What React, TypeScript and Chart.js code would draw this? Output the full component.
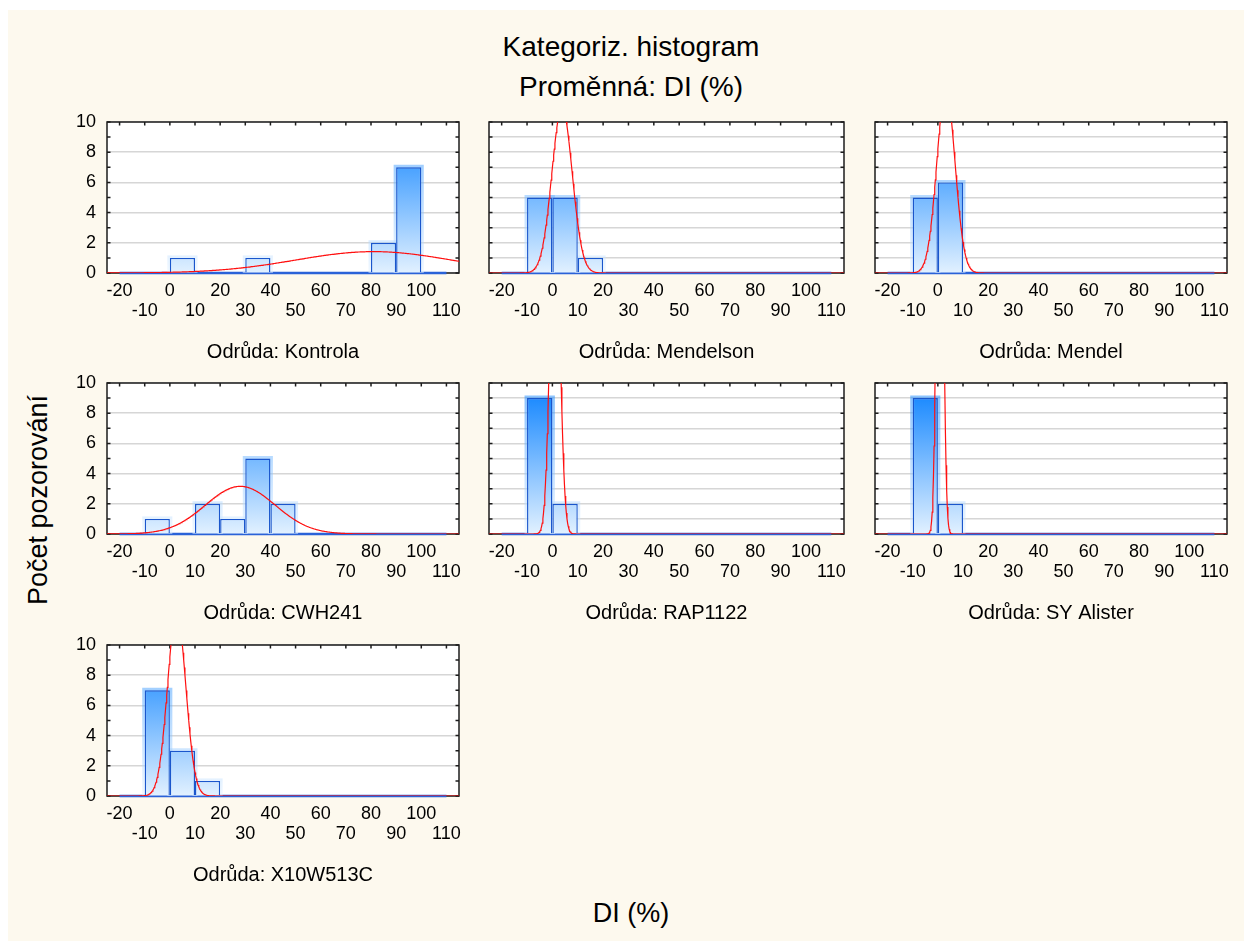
import React, { useEffect, useRef } from "react";
import { Chart, registerables } from "chart.js";

Chart.register(...registerables);

// ---------------- data ----------------
const TITLE = "Kategoriz. histogram";
const SUBTITLE = "Proměnná: DI (%)";
const X_TITLE = "DI (%)";
const Y_TITLE = "Počet pozorování";
const PANEL_PREFIX = "Odrůda: ";

const VARIETIES = ["Kontrola", "Mendelson", "Mendel", "CWH241", "RAP1122", "SY Alister", "X10W513C"];

const BIN_CENTERS = [-15, -5, 5, 15, 25, 35, 45, 55, 65, 75, 85, 95, 105];
const BIN_WIDTH = 10;

const X_TICKS = [-20, -10, 0, 10, 20, 30, 40, 50, 60, 70, 80, 90, 100, 110];
const Y_TICKS = [0, 1, 2, 3, 4, 5, 6, 7, 8, 9, 10];
const Y_TICK_LABELS = [0, 2, 4, 6, 8, 10];
const X_MIN = -25;
const X_MAX = 115;
const Y_MIN = 0;
const Y_MAX = 10;

const COUNTS_KONTROLA = [0, 0, 1, 0, 0, 1, 0, 0, 0, 0, 2, 7, 0];
const COUNTS_MENDELSON = [0, 5, 5, 1, 0, 0, 0, 0, 0, 0, 0, 0, 0];
const COUNTS_MENDEL = [0, 5, 6, 0, 0, 0, 0, 0, 0, 0, 0, 0, 0];
const COUNTS_CWH241 = [0, 1, 0, 2, 1, 5, 2, 0, 0, 0, 0, 0, 0];
const COUNTS_RAP1122 = [0, 9, 2, 0, 0, 0, 0, 0, 0, 0, 0, 0, 0];
const COUNTS_SY_ALISTER = [0, 9, 2, 0, 0, 0, 0, 0, 0, 0, 0, 0, 0];
const COUNTS_X10W513C = [0, 7, 3, 1, 0, 0, 0, 0, 0, 0, 0, 0, 0];

// fitted normal curve parameters (mean, standard deviation) per variety
const FIT_MEAN = [81, 3.8, 3.2, 28, 1.0, 0.8, 2.7];
const FIT_SD = [31, 4.0, 3.6, 13.9, 1.9, 1.2, 3.6];
const CURVE_STEP = 0.25;

const PANEL_COUNTS = [
  COUNTS_KONTROLA,
  COUNTS_MENDELSON,
  COUNTS_MENDEL,
  COUNTS_CWH241,
  COUNTS_RAP1122,
  COUNTS_SY_ALISTER,
  COUNTS_X10W513C,
];

// ---------------- layout ----------------
const COL_LEFT = [99, 481, 867];
const COL_WIDTH = [352, 355, 352];
const ROW_TOP = [112, 373, 635];
const PLOT_H = 151;
const PAD_TOP = 12;
const PAD_RIGHT = 16;
const Y_AXIS_W_LABELED = 50;
const Y_AXIS_W_PLAIN = 12;
const X_AXIS_H = 100;
const FONT = '"Liberation Sans", Arial, Helvetica, sans-serif';

Chart.defaults.font.family = FONT;
Chart.defaults.color = "#000";

function barGradient(chart: any, alpha: number) {
  const a = chart.chartArea;
  if (!a) return `rgba(120,180,255,${alpha})`;
  const g = chart.ctx.createLinearGradient(0, a.bottom, 0, a.top);
  g.addColorStop(0, `rgba(226,241,255,${alpha})`);
  g.addColorStop(1, `rgba(8,128,255,${alpha})`);
  return g;
}

const plotBgPlugin = {
  id: "plotBg",
  beforeDraw(chart: any) {
    const { ctx, chartArea: a } = chart;
    ctx.save();
    ctx.fillStyle = "#ffffff";
    ctx.fillRect(a.left, a.top, a.right - a.left, a.bottom - a.top);
    ctx.restore();
  },
};

const framePlugin = {
  id: "frame",
  beforeDatasetsDraw(chart: any) {
    const { ctx, chartArea: a, scales } = chart;
    const x = scales.x;
    const y = scales.y;
    ctx.save();
    ctx.strokeStyle = "#1c1c1c";
    ctx.lineWidth = 1.5;
    ctx.beginPath();
    for (const v of Y_TICKS) {
      const py = y.getPixelForValue(v);
      ctx.moveTo(a.left, py);
      ctx.lineTo(a.left + 3.5, py);
      ctx.moveTo(a.right, py);
      ctx.lineTo(a.right - 3.5, py);
    }
    for (const v of X_TICKS) {
      const px = x.getPixelForValue(v);
      ctx.moveTo(px, a.top);
      ctx.lineTo(px, a.top + 3.5);
    }
    ctx.stroke();
    ctx.strokeRect(a.left, a.top, a.right - a.left, a.bottom - a.top);
    ctx.restore();
  },
};

function normalCurve(idx: number) {
  const counts = PANEL_COUNTS[idx];
  const n = counts.reduce((s, c) => s + c, 0);
  const m = FIT_MEAN[idx];
  const sd = FIT_SD[idx];
  const k = (n * BIN_WIDTH) / (sd * Math.sqrt(2 * Math.PI));
  const pts: { x: number; y: number }[] = [];
  const steps = Math.round((X_MAX - X_MIN) / CURVE_STEP);
  for (let i = 0; i <= steps; i++) {
    const xv = X_MIN + i * CURVE_STEP;
    pts.push({ x: xv, y: k * Math.exp(-((xv - m) * (xv - m)) / (2 * sd * sd)) });
  }
  return pts;
}

function Panel({ idx }: { idx: number }) {
  const ref = useRef<HTMLCanvasElement | null>(null);
  const col = idx % 3;
  const row = Math.floor(idx / 3);
  const yw = col === 0 ? Y_AXIS_W_LABELED : Y_AXIS_W_PLAIN;
  const w = yw + COL_WIDTH[col] + PAD_RIGHT;
  const h = PAD_TOP + PLOT_H + X_AXIS_H;
  const left = COL_LEFT[col] - yw;
  const top = ROW_TOP[row] - PAD_TOP;

  useEffect(() => {
    if (!ref.current) return;
    const counts = PANEL_COUNTS[idx];
    const firstEdge = BIN_CENTERS[0] - BIN_WIDTH / 2;
    const lastEdge = BIN_CENTERS[BIN_CENTERS.length - 1] + BIN_WIDTH / 2;

    const chart = new Chart(ref.current, {
      type: "bar",
      data: {
        datasets: [
          {
            type: "line",
            data: normalCurve(idx),
            borderColor: "#ff1010",
            borderWidth: 1.2,
            pointRadius: 0,
            tension: 0,
            order: 0,
            clip: 0,
          } as any,
          {
            type: "bar",
            data: counts.map((c, i) => ({ x: BIN_CENTERS[i], y: c })),
            backgroundColor: (c: any) => barGradient(c.chart, 1),
            borderColor: "#1a56cc",
            borderWidth: 1.4,
            borderSkipped: "start",
            inflateAmount: 0,
            barPercentage: 1,
            categoryPercentage: 1,
            grouped: false,
            order: 1,
          } as any,
          {
            type: "bar",
            data: counts.map((c, i) => ({ x: BIN_CENTERS[i], y: c > 0 ? c : null })),
            backgroundColor: (c: any) => barGradient(c.chart, 0.5),
            borderWidth: 0,
            inflateAmount: 2.5,
            barPercentage: 1,
            categoryPercentage: 1,
            grouped: false,
            order: 2,
          } as any,
          {
            type: "line",
            data: [
              { x: firstEdge, y: 0 },
              { x: lastEdge, y: 0 },
            ],
            borderColor: "#2a62d8",
            borderWidth: 2.5,
            pointRadius: 0,
            order: 3,
            clip: 4,
          } as any,
        ],
      },
      options: {
        responsive: false,
        animation: false,
        events: [],
        layout: { padding: { top: PAD_TOP, right: PAD_RIGHT, left: 0, bottom: 0 } },
        plugins: { legend: { display: false }, tooltip: { enabled: false } },
        scales: {
          x: {
            type: "linear",
            min: X_MIN,
            max: X_MAX,
            offset: false,
            grid: { display: false, drawTicks: false },
            border: { display: false },
            afterBuildTicks: (s: any) => {
              s.ticks = X_TICKS.map((v) => ({ value: v }));
            },
            ticks: {
              autoSkip: false,
              maxRotation: 0,
              minRotation: 0,
              padding: 8,
              color: "#000",
              font: { size: 18, lineHeight: 1.1 },
              callback: (value: any) => {
                const v = Number(value);
                return Math.abs(v) % 20 === 0 ? [String(v), ""] : ["", String(v)];
              },
            },
            title: {
              display: true,
              text: PANEL_PREFIX + VARIETIES[idx],
              color: "#000",
              font: { size: 20, lineHeight: 1.2 },
              padding: { top: 0, bottom: 9 },
            },
            afterFit: (s: any) => {
              s.height = X_AXIS_H;
              s.paddingLeft = 0;
              s.paddingRight = 0;
              s.paddingTop = 0;
              s.paddingBottom = 0;
            },
          } as any,
          y: {
            type: "linear",
            min: Y_MIN,
            max: Y_MAX,
            grid: { color: "#d6d6d6", lineWidth: 1.5, drawTicks: false },
            border: { display: false },
            afterBuildTicks: (s: any) => {
              s.ticks = Y_TICKS.map((v) => ({ value: v }));
            },
            ticks: {
              display: col === 0,
              padding: 11,
              color: "#000",
              font: { size: 18 },
              callback: (value: any) => (Y_TICK_LABELS.includes(Number(value)) ? String(value) : ""),
            },
            afterFit: (s: any) => {
              s.width = yw;
              s.paddingLeft = 0;
              s.paddingRight = 0;
              s.paddingTop = 0;
              s.paddingBottom = 0;
            },
          } as any,
        },
      },
      plugins: [plotBgPlugin, framePlugin],
    } as any);
    return () => chart.destroy();
  }, [idx]);

  return (
    <canvas
      ref={ref}
      width={w}
      height={h}
      style={{ position: "absolute", left, top, width: w, height: h }}
    />
  );
}

export default function App() {
  const textBase: React.CSSProperties = {
    position: "absolute",
    transform: "translate(-50%, -50%)",
    whiteSpace: "nowrap",
    lineHeight: 1,
  };
  return (
    <div
      style={{
        position: "fixed",
        left: 8,
        top: 10,
        width: 1236,
        height: 931,
        background: "#fdf9ee",
        overflow: "hidden",
        fontFamily: FONT,
        color: "#000",
      }}
    >
      <div style={{ ...textBase, left: 623, top: 37, fontSize: 28 }}>{TITLE}</div>
      <div style={{ ...textBase, left: 623, top: 77, fontSize: 28 }}>{SUBTITLE}</div>
      <div style={{ ...textBase, left: 623, top: 903, fontSize: 27 }}>{X_TITLE}</div>
      <div
        style={{
          ...textBase,
          left: 30,
          top: 490,
          fontSize: 27,
          transform: "translate(-50%, -50%) rotate(-90deg)",
        }}
      >
        {Y_TITLE}
      </div>
      {VARIETIES.map((_, i) => (
        <Panel key={i} idx={i} />
      ))}
    </div>
  );
}
